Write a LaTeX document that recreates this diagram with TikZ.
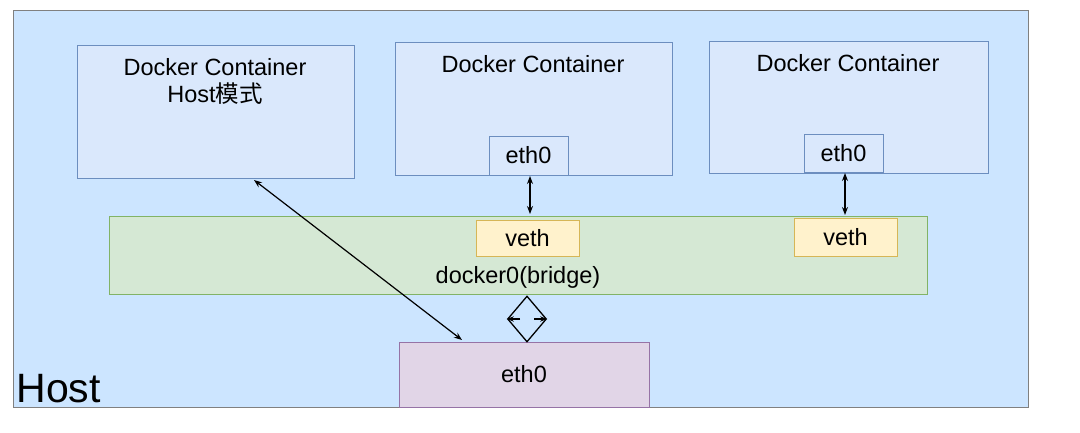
\documentclass[tikz,border=0pt]{standalone}
\usepackage{fontspec}
\setmainfont{Liberation Sans}
\newfontfamily\cjk{Noto Sans CJK SC}
\usetikzlibrary{shapes.geometric,arrows.meta}
\definecolor{hostbg}{HTML}{CCE5FF}
\definecolor{contbg}{HTML}{DAE8FC}\definecolor{contbd}{HTML}{6C8EBF}
\definecolor{grbg}{HTML}{D5E8D4}\definecolor{grbd}{HTML}{82B366}
\definecolor{yebg}{HTML}{FFF2CC}\definecolor{yebd}{HTML}{D6B656}
\definecolor{pubg}{HTML}{E1D5E7}\definecolor{pubd}{HTML}{9673A6}
\begin{document}
\begin{tikzpicture}[x=1pt,y=-1pt,line width=1pt,
  txt/.style={font=\fontsize{23.5}{27}\selectfont},
  cont/.style={draw=contbd,fill=contbg},
  arr/.style={{Stealth[length=8pt]}-{Stealth[length=8pt]},line width=1.2pt}]
\useasboundingbox (0,0) rectangle (1080,432);
\draw[fill=hostbg,draw=gray] (13,10) rectangle (1028,407);
\node[anchor=south west,inner sep=0,font=\fontsize{41}{46}\selectfont] (hl) at (16,403) {Host};
\draw[cont] (77,45) rectangle (354,178);
\node[txt,align=center,anchor=north] (c1) at (215,55) {Docker Container\\Host{\cjk 模式}};
\draw[cont] (395,42) rectangle (672,175);
\node[txt,anchor=north] (c2) at (533,52) {Docker Container};
\draw[cont] (709,41) rectangle (988,173);
\node[txt,anchor=north] (c3) at (848,51) {Docker Container};
\node[cont,txt,minimum width=79pt,minimum height=39pt,inner sep=0] (e1) at (528.5,155.5) {eth0};
\node[cont,txt,minimum width=79pt,minimum height=38pt,inner sep=0] (e2) at (843.5,153) {eth0};
\draw[draw=grbd,fill=grbg] (109,216) rectangle (927,294);
\node[txt] (br) at (518,277) {docker0(bridge)};
\node[draw=yebd,fill=yebg,txt,minimum width=103pt,minimum height=36pt,inner sep=0] (v1) at (527.5,238) {veth};
\node[draw=yebd,fill=yebg,txt,minimum width=103pt,minimum height=38pt,inner sep=0] (v2) at (845.5,237) {veth};
\node[draw=pubd,fill=pubg,txt,minimum width=250pt,minimum height=65pt,inner sep=0] (he) at (524,374.5) {eth0};
\node[diamond,draw,line width=1.3pt,minimum width=39pt,minimum height=46pt,inner sep=0,aspect=0.85] (dm) at (527,319) {};
\draw[-{Stealth[length=7pt]},line width=1.3pt] (520,319) -- (dm.west);
\draw[-{Stealth[length=7pt]},line width=1.3pt] (534,319) -- (dm.east);
\draw[arr] (530,176) -- (530,214);
\draw[arr] (845,173) -- (845,215);
\coordinate (a1) at (254,180);
\coordinate (a2) at (462,340);
\draw[arr] (a1) -- (a2);
\end{tikzpicture}
\end{document}
